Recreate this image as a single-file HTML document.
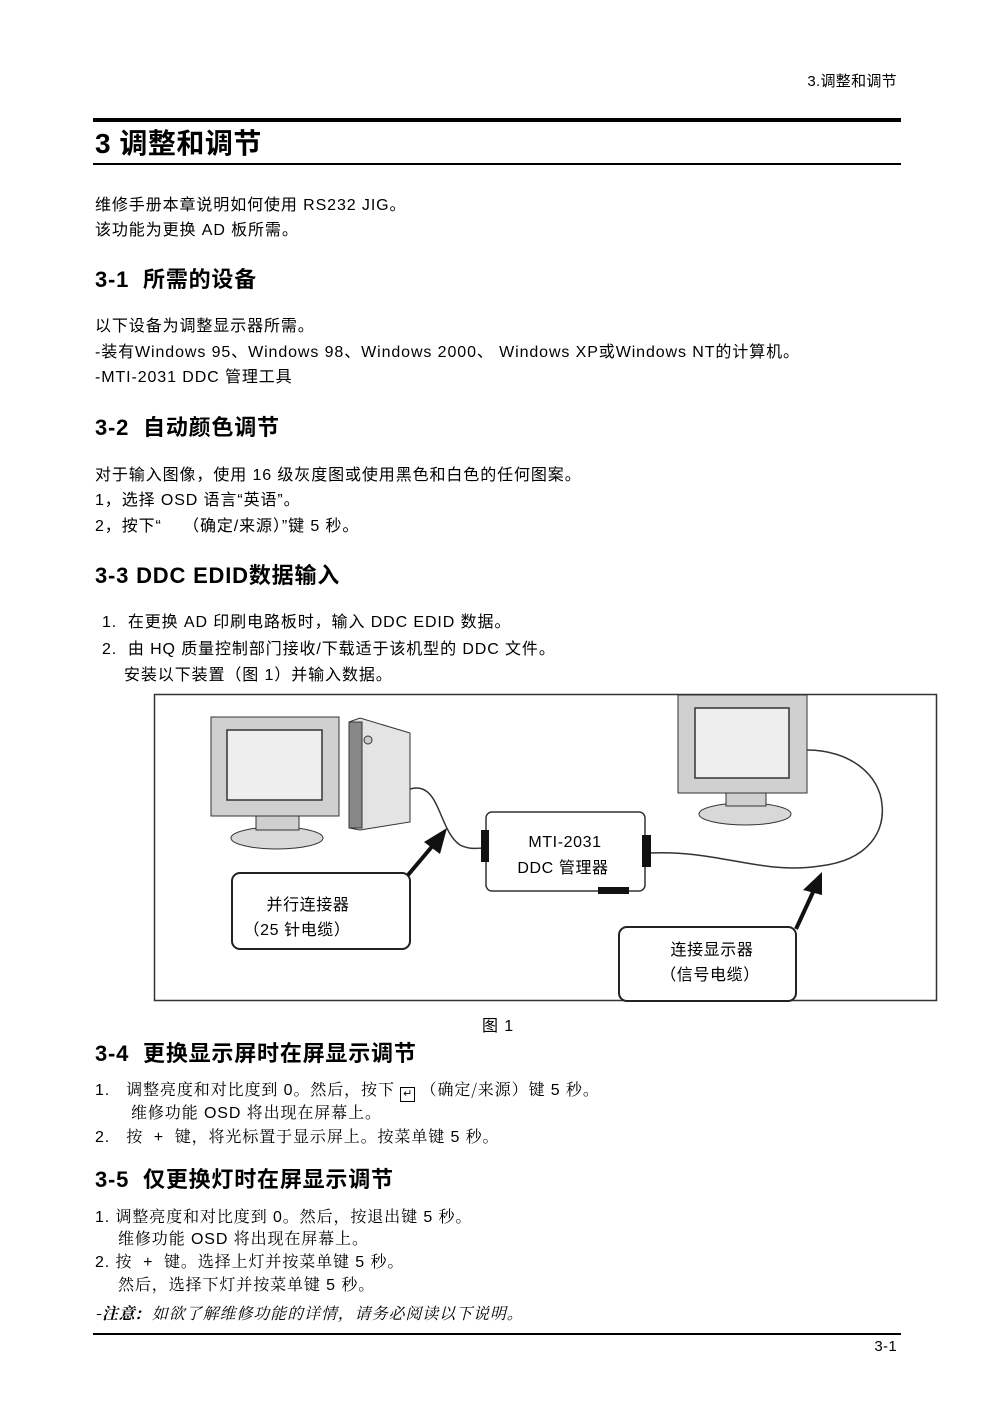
<!DOCTYPE html>
<html><head><meta charset="utf-8"><style>
html,body{margin:0;padding:0;background:#fff;}
body{width:992px;height:1404px;position:relative;overflow:hidden;font-family:"Liberation Sans","Noto Sans CJK SC",sans-serif;color:#000;}
.t{position:absolute;white-space:nowrap;font-size:16px;line-height:20px;letter-spacing:0.9px;}
.h{position:absolute;white-space:nowrap;font-size:22px;line-height:24px;font-weight:bold;letter-spacing:0.8px;}
.s{font-family:"Noto Serif CJK SC","Liberation Serif",serif;}
</style></head><body>
<div class="t" style="right:95px;top:72px;font-size:15px;letter-spacing:0.3px;">3.调整和调节</div>
<div style="position:absolute;left:93px;top:118px;width:808px;height:4px;background:#000"></div>
<div class="h" style="left:95px;top:129px;font-size:28px;line-height:30px;letter-spacing:0.5px;">3 调整和调节</div>
<div style="position:absolute;left:93px;top:163px;width:808px;height:2px;background:#000"></div>

<div class="t" style="left:95px;top:196px;">维修手册本章说明如何使用 RS232 JIG。</div>
<div class="t" style="left:95px;top:221px;">该功能为更换 AD 板所需。</div>
<div class="h" style="left:95px;top:268px;">3-1&nbsp; 所需的设备</div>
<div class="t" style="left:95px;top:317px;">以下设备为调整显示器所需。</div>
<div class="t" style="left:95px;top:343px;">-装有Windows 95、Windows 98、Windows 2000、 Windows XP或Windows NT的计算机。</div>
<div class="t" style="left:95px;top:368px;">-MTI-2031 DDC 管理工具</div>
<div class="h" style="left:95px;top:416px;">3-2&nbsp; 自动颜色调节</div>
<div class="t" style="left:95px;top:466px;">对于输入图像，使用 16 级灰度图或使用黑色和白色的任何图案。</div>
<div class="t" style="left:95px;top:491px;">1，选择 OSD 语言“英语”。</div>
<div class="t" style="left:95px;top:517px;">2，按下“&nbsp;&nbsp;&nbsp;&nbsp;（确定/来源）”键 5 秒。</div>
<div class="h" style="left:95px;top:564px;">3-3 DDC EDID数据输入</div>
<div class="t" style="left:102px;top:613px;">1.&nbsp; 在更换 AD 印刷电路板时，输入 DDC EDID 数据。</div>
<div class="t" style="left:102px;top:640px;">2.&nbsp; 由 HQ 质量控制部门接收/下载适于该机型的 DDC 文件。</div>
<div class="t" style="left:124px;top:666px;">安装以下装置（图 1）并输入数据。</div>

<svg style="position:absolute;left:0;top:0" width="992" height="1404">
<rect x="154.5" y="694.5" width="782" height="306" fill="#fff" stroke="#333" stroke-width="1.5"/>
<ellipse cx="277" cy="838" rx="46" ry="11" fill="#d8d8d8" stroke="#333"/>
<rect x="256" y="812" width="43" height="18" fill="#cfcfcf" stroke="#333"/>
<rect x="211" y="717" width="128" height="99" fill="#d0d0d0" stroke="#333"/>
<rect x="227" y="730" width="95" height="70" fill="#eee" stroke="#333" stroke-width="1.5"/>
<polygon points="349,722 360,718 410,733 410,822 360,830 349,828" fill="#e4e4e4" stroke="#333"/>
<rect x="349" y="722" width="13" height="106" fill="#888" stroke="#333"/>
<circle cx="368" cy="740" r="4" fill="#ccc" stroke="#333"/>
<ellipse cx="745" cy="814" rx="46" ry="11" fill="#d8d8d8" stroke="#333"/>
<rect x="726" y="790" width="40" height="16" fill="#cfcfcf" stroke="#333"/>
<rect x="678" y="695" width="129" height="98" fill="#d0d0d0" stroke="#333"/>
<rect x="695" y="708" width="94" height="70" fill="#eee" stroke="#333" stroke-width="1.5"/>
<path d="M410,789 C440,780 438,830 460,845 C470,850 478,848 485,848" fill="none" stroke="#333" stroke-width="1.5"/>
<path d="M650,853 C720,850 760,875 820,866 C870,860 885,830 882,805 C880,775 850,750 807,750" fill="none" stroke="#333" stroke-width="1.5"/>
<rect x="486" y="812" width="159" height="79" rx="6" fill="#fff" stroke="#333" stroke-width="1.5"/>
<rect x="481" y="830" width="8" height="32" fill="#111"/>
<rect x="642" y="835" width="9" height="32" fill="#111"/>
<rect x="598" y="887" width="31" height="7" fill="#111"/>
<g font-size="16" text-anchor="middle" letter-spacing="0.6" font-family="Liberation Sans,Noto Sans CJK SC,sans-serif">
<text x="565" y="847">MTI-2031</text>
<text x="563" y="873">DDC 管理器</text>
<text x="308" y="910">并行连接器</text>
<text x="297" y="935">（25 针电缆）</text>
</g>
<line x1="408" y1="875" x2="435" y2="843" stroke="#111" stroke-width="4"/>
<polygon points="447,828 424,842 440,854" fill="#111"/>
<line x1="796" y1="929" x2="814" y2="890" stroke="#111" stroke-width="4"/>
<polygon points="822,872 803,890 822,895" fill="#111"/>
<rect x="232" y="873" width="178" height="76" rx="8" fill="none" stroke="#222" stroke-width="2"/>
<rect x="619" y="927" width="177" height="74" rx="8" fill="#fff" stroke="#222" stroke-width="2"/>
<g font-size="16" text-anchor="middle" letter-spacing="0.6" font-family="Liberation Sans,Noto Sans CJK SC,sans-serif">
<text x="712" y="955">连接显示器</text>
<text x="710" y="980">（信号电缆）</text>
</g>
</svg>

<div class="t" style="left:482px;top:1017px;">图 1</div>
<div class="h" style="left:95px;top:1042px;">3-4&nbsp; 更换显示屏时在屏显示调节</div>
<div class="t" style="left:95px;top:1079px;">1.&nbsp;&nbsp; <span class="s">调整亮度和对比度到</span> 0<span class="s">。然后，按下</span> <span style="display:inline-block;width:13px;height:13px;border:1.5px solid #000;font-size:11px;line-height:13px;text-align:center;vertical-align:-2px;letter-spacing:0">↵</span> <span class="s">（确定/来源）键</span> 5 <span class="s">秒。</span></div>
<div class="t" style="left:131px;top:1102px;"><span class="s">维修功能</span> OSD <span class="s">将出现在屏幕上。</span></div>
<div class="t" style="left:95px;top:1126px;">2.&nbsp;&nbsp; <span class="s">按</span> &nbsp;+&nbsp; <span class="s">键，将光标置于显示屏上。按菜单键</span> 5 <span class="s">秒。</span></div>
<div class="h" style="left:95px;top:1168px;">3-5&nbsp; 仅更换灯时在屏显示调节</div>
<div class="t" style="left:95px;top:1206px;">1. <span class="s">调整亮度和对比度到</span> 0<span class="s">。然后，按退出键</span> 5 <span class="s">秒。</span></div>
<div class="t" style="left:118px;top:1228px;"><span class="s">维修功能</span> OSD <span class="s">将出现在屏幕上。</span></div>
<div class="t" style="left:95px;top:1251px;">2. <span class="s">按</span> &nbsp;+&nbsp; <span class="s">键。选择上灯并按菜单键</span> 5 <span class="s">秒。</span></div>
<div class="t" style="left:118px;top:1274px;"><span class="s">然后，选择下灯并按菜单键</span> 5 <span class="s">秒。</span></div>
<div class="t s" style="left:95px;top:1303px;font-style:italic;"><b>-注意:</b>&nbsp; 如欲了解维修功能的详情，请务必阅读以下说明。</div>
<div style="position:absolute;left:93px;top:1333px;width:808px;height:1.5px;background:#000"></div>
<div class="t" style="right:95px;top:1337px;font-size:15px;letter-spacing:0.3px;">3-1</div>
</body></html>
